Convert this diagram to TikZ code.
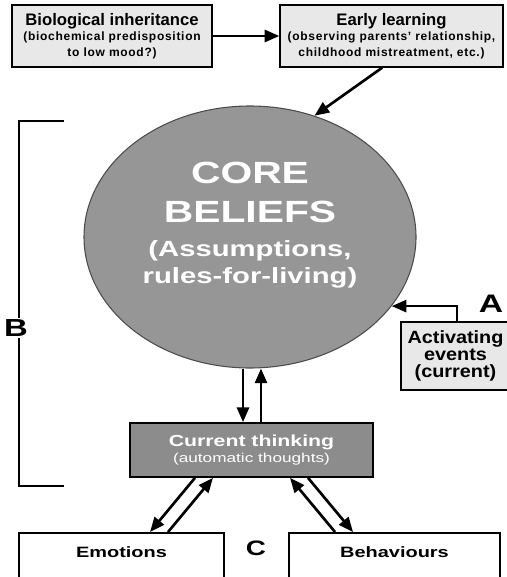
\documentclass[tikz,border=0pt]{standalone}
\usepackage{fontspec}
\setmainfont{Liberation Sans}
\newfontfamily\widefont[FakeStretch=1.33]{Liberation Sans}
\newfontfamily\midfont[FakeStretch=1.12]{Liberation Sans}
\usetikzlibrary{arrows.meta,shapes.geometric}

\newcommand\titlef{\fontsize{12.5}{14}\selectfont\bfseries}
\newcommand\subf{\fontsize{9}{11}\selectfont\bfseries\addfontfeature{LetterSpace=6}}
\newcommand\bigf{\widefont\fontsize{23}{29.25}\selectfont\bfseries}
\newcommand\medf{\widefont\fontsize{16.5}{20}\selectfont\bfseries}

\tikzset{
  inbox/.style={draw, fill=black!9, line width=1pt, align=center, inner sep=0pt},
  darkbox/.style={draw, fill=black!45, line width=1.3pt, align=center, inner sep=0pt, text=white},
  outbox/.style={draw, fill=white, line width=1.3pt, inner xsep=0pt, text height=9pt,
    text depth=22.5pt, inner ysep=9.75pt, font=\widefont\fontsize{11.25}{13}\selectfont\bfseries},
  arr/.style={line width=2pt, -{Triangle[length=11pt, width=9pt]}},
  bracket/.style={line width=0.8pt},
  letter/.style={fill=white, inner sep=1pt}
}

\begin{document}
\begin{tikzpicture}[x=0.75pt, y=-0.75pt]
  \useasboundingbox (0,0) rectangle (506,577);

  % influences from the past
  \node[inbox, minimum width=150pt, minimum height=46.5pt] (bio) at (112,36)
    {\titlef Biological inheritance\\[-1pt]
     \subf (biochemical predisposition\\ \subf to low mood?)};
  \node[inbox, minimum width=167.25pt, minimum height=46.5pt] (early) at (391.5,36)
    {\titlef Early learning\\[-1pt]
     \subf (observing parents' relationship,\\ \subf childhood mistreatment, etc.)};

  % core beliefs
  \node[ellipse, draw=black!70, fill=black!41, line width=0.8pt, minimum width=249pt,
        minimum height=196.5pt, inner sep=0pt] (core) at (250,237) {};
  \node[align=center, text=white, inner sep=0pt, font=\bigf] (corelabel) at (250,225)
    {\bigf CORE\\ \bigf BELIEFS\\[-4pt]
     \medf (Assumptions,\\[-9pt] \medf rules-for-living)};

  \node[inbox, minimum width=81.75pt, minimum height=51pt,
        font=\midfont\fontsize{13.3}{12.6}\selectfont\bfseries] (act) at (455.5,356)
    {Activating\\ events\\ (current)};

  \node[darkbox, minimum width=182.25pt, minimum height=40.5pt,
        font=\widefont\fontsize{12}{11.5}\selectfont] (ct) at (251.5,450)
    {\bfseries Current thinking\\
     \fontsize{9.7}{11}\selectfont(automatic thoughts)};

  \node[outbox, minimum width=153.75pt, anchor=north] (emo) at (121.5,532) {Emotions};
  \node[outbox, minimum width=158.25pt, anchor=north] (beh) at (394.5,532) {Behaviours};

  % letters
  \node[letter, font=\widefont\fontsize{19}{19}\selectfont\bfseries] (A) at (491,304) {A};
  \node[letter, font=\widefont\fontsize{18.5}{18}\selectfont\bfseries] (B) at (16,328) {B};
  \node[letter, font=\widefont\fontsize{15.7}{16}\selectfont\bfseries] (C) at (256,548) {C};

  \coordinate (btop) at (64,121);
  \coordinate (bbot) at (64,486);
  \draw[bracket] (btop) -| ([xshift=2.25pt]B.north);
  \draw[bracket] (bbot) -| ([xshift=2.25pt]B.south);

  % connectors
  \draw[arr] (bio) -- (early);
  \draw[arr] ([xshift=-7pt]early.south) -- (core.62);
  \draw[arr] ([xshift=1pt]act.north) |- (core.-26);
  \draw[arr] ([xshift=-5.25pt]core.south) -- ([xshift=-5.25pt]core.south |- ct.north);
  \draw[arr] ([xshift=8.25pt]core.south |- ct.north) -- ([xshift=8.25pt]core.south);
  \draw[arr] ([xshift=-42.4pt]ct.south) -- ([xshift=21.4pt]emo.north);
  \draw[arr] ([xshift=34.9pt]emo.north) -- ([xshift=-28.9pt]ct.south);
  \draw[arr] ([xshift=-44.6pt]beh.north) -- ([xshift=28.9pt]ct.south);
  \draw[arr] ([xshift=42.4pt]ct.south) -- ([xshift=-31.1pt]beh.north);
\end{tikzpicture}
\end{document}
